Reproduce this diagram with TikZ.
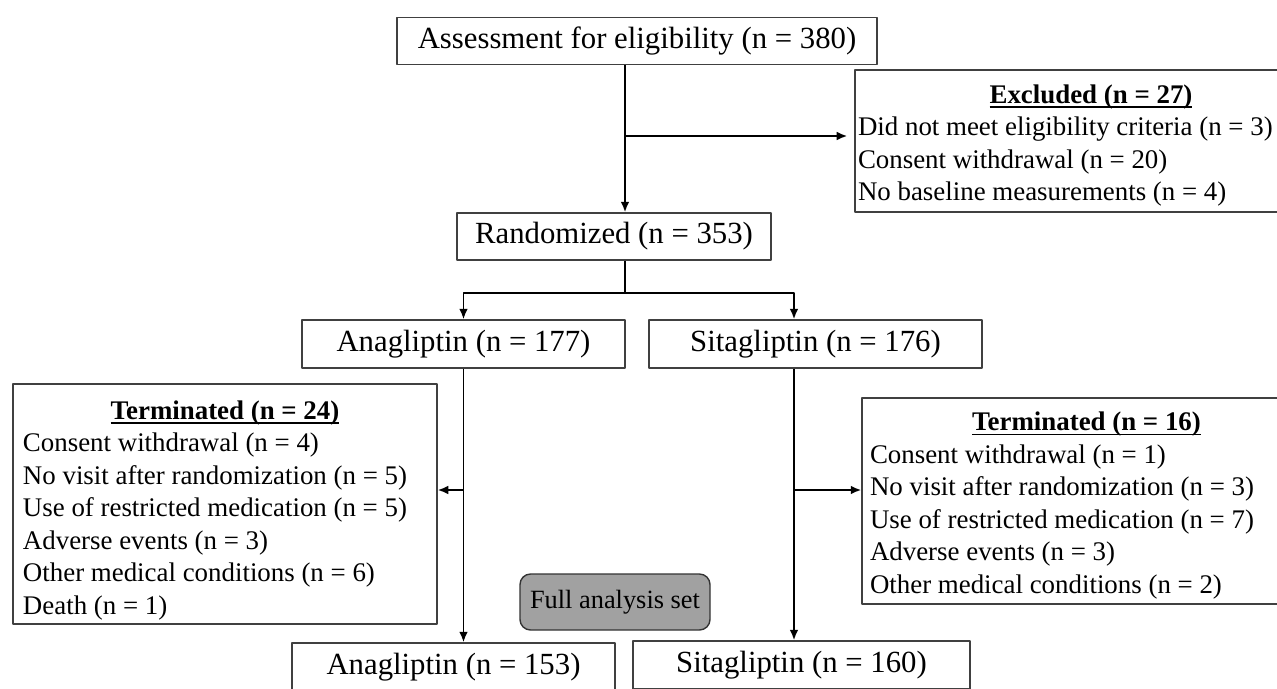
\documentclass[tikz,border=0pt]{standalone}
\usepackage{fontspec}
\setmainfont{Liberation Serif}
\usetikzlibrary{arrows.meta}
\newsavebox{\titlebox}
\newcommand{\boxtitle}[1]{\multicolumn{1}{@{}c@{}}{\sbox{\titlebox}{\textbf{#1}}\rlap{\rule[-2.6pt]{\wd\titlebox}{0.9pt}}\usebox{\titlebox}}}

\begin{document}
\begin{tikzpicture}[line join=round,>={Latex[length=6pt,width=5pt]},
	box/.style={draw=black!75,line width=0.8pt,inner sep=0pt,font=\fontsize{17.5}{21}\selectfont},
	listbox/.style={draw=black!75,line width=0.8pt,inner sep=0pt,font=\fontsize{15.3}{18.5}\selectfont},
	fas/.style={draw=black!80,fill=black!37,rounded corners=6pt,line width=0.8pt,font=\fontsize{15}{18}\selectfont},
	link/.style={line width=1.1pt}]
	\def \W{25.54}
	\def \H{13.76}
	\useasboundingbox (0,0) rectangle (\W,-\H);
	\clip (0,0) rectangle (\W,-\H);
	% boxes
	\node[box,minimum width=9.6cm,minimum height=0.94cm] (assess) at (12.74,-0.82) {Assessment for eligibility (n = 380)};
	\node[listbox,minimum width=9.44cm,minimum height=2.84cm] (excl) at (21.82,-2.82) {\begin{tabular}{@{}p{9.32cm}@{}}\noalign{\vskip5pt}
		\boxtitle{Excluded (n = 27)}\\
		Did not meet eligibility criteria (n = 3)\\
		Consent withdrawal (n = 20)\\
		No baseline measurements (n = 4)
	\end{tabular}};
	\node[box,minimum width=6.28cm,minimum height=0.94cm] (rand) at (12.28,-4.73) {Randomized (n = 353)};
	\node[box,minimum width=6.46cm,minimum height=0.96cm] (ana1) at (9.27,-6.88) {Anagliptin (n = 177)};
	\node[box,minimum width=6.66cm,minimum height=0.96cm] (sita1) at (16.31,-6.88) {Sitagliptin (n = 176)};
	\node[listbox,minimum width=8.48cm,minimum height=4.72cm] (term1) at (4.5,-10.08) {\begin{tabular}{@{}p{8.08cm}@{}}\noalign{\vskip7pt}
		\boxtitle{Terminated (n = 24)}\\
		Consent withdrawal (n = 4)\\
		No visit after randomization (n = 5)\\
		Use of restricted medication (n = 5)\\
		Adverse events (n = 3)\\
		Other medical conditions (n = 6)\\
		Death (n = 1)
	\end{tabular}};
	\node[listbox,minimum width=8.98cm,minimum height=4.12cm] (term2) at (21.73,-10.02) {\begin{tabular}{@{}p{8.66cm}@{}}\noalign{\vskip5pt}
		\boxtitle{Terminated (n = 16)}\\
		Consent withdrawal (n = 1)\\
		No visit after randomization (n = 3)\\
		Use of restricted medication (n = 7)\\
		Adverse events (n = 3)\\
		Other medical conditions (n = 2)
	\end{tabular}};
	\node[fas,minimum width=3.8cm,minimum height=1.12cm] (full) at (12.3,-12.04) {Full analysis set};
	\node[box,minimum width=6.46cm,minimum height=0.96cm] (ana2) at (9.07,-13.34) {Anagliptin (n = 153)};
	\node[box,minimum width=6.74cm,minimum height=0.96cm] (sita2) at (16.03,-13.30) {Sitagliptin (n = 160)};
	% connectors
	\coordinate (trunk) at (12.5,-2.72);
	\coordinate (split) at (12.5,-5.86);
	\coordinate (lline) at (9.27,-9.8);
	\coordinate (rline) at (15.88,-9.8);
	\draw[link,->] (assess.south -| trunk) -- (rand.north -| trunk);
	\draw[link,->,shorten >=4pt] (trunk) -- (trunk -| excl.west);
	\draw[link] (rand.south -| split) -- (split);
	\draw[link,->] (split) -| (ana1.north);
	\draw[link,->] (split) -| (rline |- sita1.north);
	\draw[link,->] (ana1.south) -- (ana1.south |- ana2.north);
	\draw[link,->] (lline) -- (term1.east |- lline);
	\draw[link,->] (rline |- sita1.south) -- (rline |- sita2.north);
	\draw[link,->] (rline) -- (term2.west |- rline);
\end{tikzpicture}
\end{document}
